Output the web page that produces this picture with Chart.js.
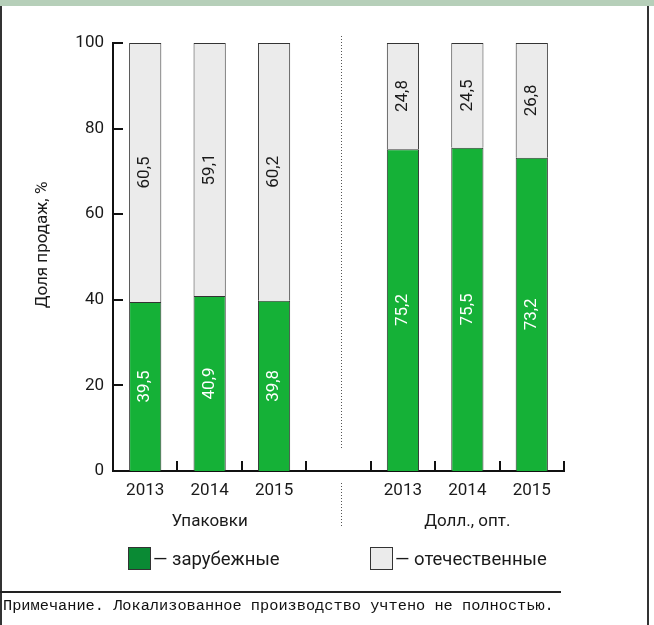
<!DOCTYPE html>
<html><head><meta charset="utf-8">
<script src="https://cdn.jsdelivr.net/npm/chart.js@4.4.0/dist/chart.umd.min.js"></script>
<style>
html,body{margin:0;padding:0;background:#fff;}
#wrap{position:relative;width:654px;height:625px;overflow:hidden;background:#fff;font-family:'Roboto',sans-serif;color:#1a1a1a;}
#band{position:absolute;left:0;top:0;width:654px;height:6px;background:#b6cfb9;}
#lb{position:absolute;left:0;top:6px;width:2px;height:619px;background:#333;}
#rb{position:absolute;left:647px;top:6px;width:2px;height:619px;background:#333;}
canvas{position:absolute;left:0;top:0;}
.leg{position:absolute;top:547px;height:23px;display:flex;align-items:center;font-size:18.5px;white-space:nowrap;}
.sw{width:21px;height:21px;border:1px solid #333;margin-right:2px;}
#nl{position:absolute;left:0;top:591px;width:561px;height:2px;background:#222;}
#note{position:absolute;left:3px;top:597px;font-family:'Liberation Mono','DejaVu Sans Mono',monospace;font-size:15.3px;white-space:nowrap;color:#111;}
</style></head>
<body><div id="wrap">
<canvas id="c" width="654" height="625"></canvas>
<div id="band"></div><div id="lb"></div><div id="rb"></div>
<div class="leg" style="left:128px"><div class="sw" style="background:#0a8a34"></div><span id="l1"></span></div>
<div class="leg" style="left:370px"><div class="sw" style="background:#ebebeb"></div><span id="l2"></span></div>
<div id="nl"></div><div id="note"></div>
</div>
<script>
const categories = ['2013','2014','2015','','2013','2014','2015'];
const groupLabels = ['', 'Упаковки', '', '', '', 'Долл., опт.', ''];
const foreign = [39.5, 40.9, 39.8, null, 75.2, 75.5, 73.2];
const domestic = [60.5, 59.1, 60.2, null, 24.8, 24.5, 26.8];
const yTicks = [0, 20, 40, 60, 80, 100];
const seriesNames = ['зарубежные', 'отечественные'];
const yTitle = 'Доля продаж, %';
const noteText = 'Примечание. Локализованное производство учтено не полностью.';

document.getElementById('l1').textContent = '— ' + seriesNames[0];
document.getElementById('l2').textContent = '— ' + seriesNames[1];
document.getElementById('note').textContent = noteText;

const FONT = 'Roboto, sans-serif';
const FS = 17;
const TXT = '#1a1a1a';

const labelPlugin = {
  id: 'vlabels',
  afterDatasetsDraw(chart) {
    const ctx = chart.ctx;
    chart.data.datasets.forEach((ds, di) => {
      const meta = chart.getDatasetMeta(di);
      meta.data.forEach((el, i) => {
        const v = ds.data[i];
        if (v == null) return;
        const p = el.getProps(['x', 'y', 'base'], true);
        ctx.save();
        ctx.translate(p.x, (p.y + p.base) / 2);
        ctx.rotate(-Math.PI / 2);
        ctx.fillStyle = di === 0 ? '#ffffff' : TXT;
        ctx.font = FS + 'px ' + FONT;
        ctx.textAlign = 'center';
        ctx.textBaseline = 'middle';
        ctx.fillText(v.toFixed(1).replace('.', ','), 0, 0);
        ctx.restore();
      });
    });
  }
};

const axisPlugin = {
  id: 'axisdeco',
  afterDraw(chart) {
    const ctx = chart.ctx, ys = chart.scales.y, xs = chart.scales.x, ca = chart.chartArea;
    ctx.save();
    ctx.strokeStyle = '#111';
    ctx.lineWidth = 2;
    ctx.beginPath();
    yTicks.forEach(t => {
      const py = Math.round(ys.getPixelForValue(t));
      ctx.moveTo(ca.left, py); ctx.lineTo(ca.left + 10, py);
    });
    for (let i = 0; i < categories.length; i++) {
      const px = Math.round(xs.getPixelForValue(i + 0.5));
      ctx.moveTo(px, ca.bottom); ctx.lineTo(px, ca.bottom - 10);
    }
    ctx.stroke();
    const dx = Math.round(xs.getPixelForValue(3)) + 2.5;
    ctx.strokeStyle = '#555';
    ctx.lineWidth = 1;
    ctx.setLineDash([1, 2]);
    ctx.beginPath();
    ctx.moveTo(dx, ca.top - 7); ctx.lineTo(dx, ca.bottom - 21);
    ctx.moveTo(dx, ca.bottom + 12); ctx.lineTo(dx, ca.bottom + 56);
    ctx.stroke();
    ctx.setLineDash([]);
    ctx.fillStyle = TXT;
    ctx.font = FS + 'px ' + FONT;
    ctx.textAlign = 'center';
    ctx.textBaseline = 'middle';
    groupLabels.forEach((g, i) => {
      if (g) ctx.fillText(g, xs.getPixelForValue(i), ca.bottom + 51);
    });
    ctx.save();
    ctx.translate(ca.left - 70, (ca.top + ca.bottom) / 2 - 12);
    ctx.rotate(-Math.PI / 2);
    ctx.fillText(yTitle, 0, 0);
    ctx.restore();
    ctx.restore();
  }
};

new Chart(document.getElementById('c'), {
  type: 'bar',
  data: {
    labels: categories,
    datasets: [
      { label: seriesNames[0], data: foreign, backgroundColor: '#15b137', borderColor: '#333', borderWidth: 1, barPercentage: 0.5, categoryPercentage: 1 },
      { label: seriesNames[1], data: domestic, backgroundColor: '#ebebeb', borderColor: '#333', borderWidth: 1, barPercentage: 0.5, categoryPercentage: 1 }
    ]
  },
  options: {
    responsive: false,
    animation: false,
    layout: { padding: { left: 0, top: 43, right: 90, bottom: 0 } },
    plugins: { legend: { display: false }, tooltip: { enabled: false } },
    scales: {
      x: {
        stacked: true,
        grid: { display: false, drawTicks: false },
        border: { display: true, color: '#111', width: 2 },
        ticks: { font: { family: FONT, size: FS }, color: TXT, padding: 10, maxRotation: 0, autoSkip: false },
        afterFit(s) { s.height = 154; }
      },
      y: {
        stacked: true,
        min: 0, max: 100,
        afterBuildTicks(s) { s.ticks = yTicks.map(v => ({ value: v })); },
        grid: { display: false, drawTicks: false },
        border: { display: true, color: '#111', width: 2 },
        ticks: { font: { family: FONT, size: FS }, color: TXT, padding: 9 },
        afterFit(s) { s.width = 113; }
      }
    }
  },
  plugins: [labelPlugin, axisPlugin]
});
</script>
</body></html>
